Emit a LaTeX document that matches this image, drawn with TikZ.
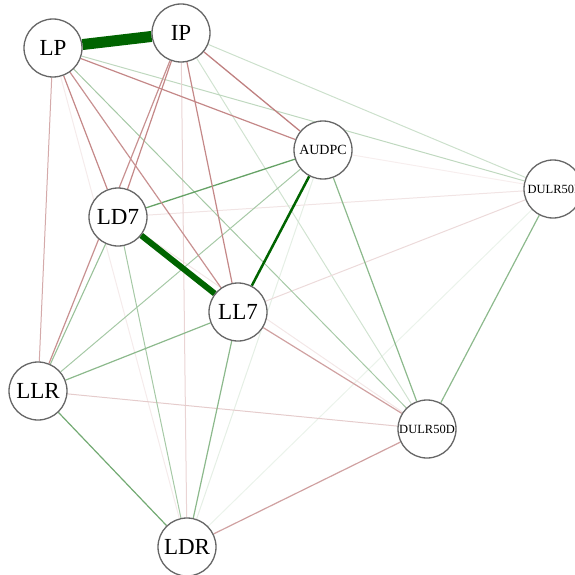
\documentclass[tikz,border=0pt]{standalone}
\usepackage{fontspec}
\setmainfont{Liberation Serif}
\usetikzlibrary{backgrounds}

\definecolor{posc}{RGB}{0,100,0}
\definecolor{negc}{RGB}{170,85,85}

\begin{document}
\begin{tikzpicture}[x=1pt,y=-1pt,
  var/.style={circle,draw=black!60,line width=1.3pt,fill=white,
    minimum size=58pt,inner sep=0pt,font=\fontsize{23}{25}\selectfont},
  smallvar/.style={var,font=\fontsize{14}{16}\selectfont},
  tinyvar/.style={var,font=\fontsize{12.5}{14}\selectfont}]
  \useasboundingbox (0,0) rectangle (574,575);

  % variables (pixel grid of the plot)
  \node[var] (LP) at (53,48) {LP};
  \node[var] (IP) at (181,33) {IP};
  \node[smallvar] (AUDPC) at (323,150) {AUDPC};
  \node[tinyvar] (DULR50I) at (553,189) {DULR50I};
  \node[var] (LD7) at (118,217) {LD7};
  \node[var] (LL7) at (238,312) {LL7};
  \node[var] (LLR) at (38,391) {LLR};
  \node[tinyvar] (DULR50D) at (427,429) {DULR50D};
  \node[var] (LDR) at (187,547) {LDR};

  % edges: from/to/colour/width
  \begin{scope}[on background layer]
  \foreach \a/\b/\c/\w in {
      LP/LDR/negc!12/1, AUDPC/DULR50I/negc!10/1, AUDPC/LDR/posc!10/1,
      DULR50I/LDR/posc!8/1, LD7/DULR50D/negc!14/1, DULR50I/LD7/negc!16/1,
      IP/DULR50D/posc!18/1, IP/DULR50I/posc!20/1, LP/DULR50I/posc!25/1,
      DULR50I/LL7/negc!22/1, IP/LDR/negc!25/1, LLR/DULR50D/negc!30/1,
      LP/DULR50D/posc!35/1, AUDPC/LLR/posc!35/1, LD7/LDR/posc!35/1,
      LD7/LLR/posc!40/1.1, LP/LLR/negc!50/1, LL7/LLR/posc!45/1.2,
      LL7/LDR/posc!45/1.2, AUDPC/DULR50D/posc!45/1.2,
      DULR50I/DULR50D/posc!45/1.2, LL7/DULR50D/negc!55/1.2,
      LLR/LDR/posc!55/1.2, LDR/DULR50D/negc!55/1.2,
      AUDPC/LD7/posc!60/1.3, LP/AUDPC/negc!70/1.2, IP/AUDPC/negc!75/1.3,
      LP/LD7/negc!70/1.2, LP/LL7/negc!65/1.2, IP/LD7/negc!70/1.2,
      IP/LLR/negc!65/1.2, IP/LL7/negc!70/1.2,
      AUDPC/LL7/posc/2.5, LD7/LL7/posc/6, LP/IP/posc/11} {
    \draw[\c,line width=\w pt] (\a) -- (\b);
  }
  \end{scope}
\end{tikzpicture}
\end{document}
